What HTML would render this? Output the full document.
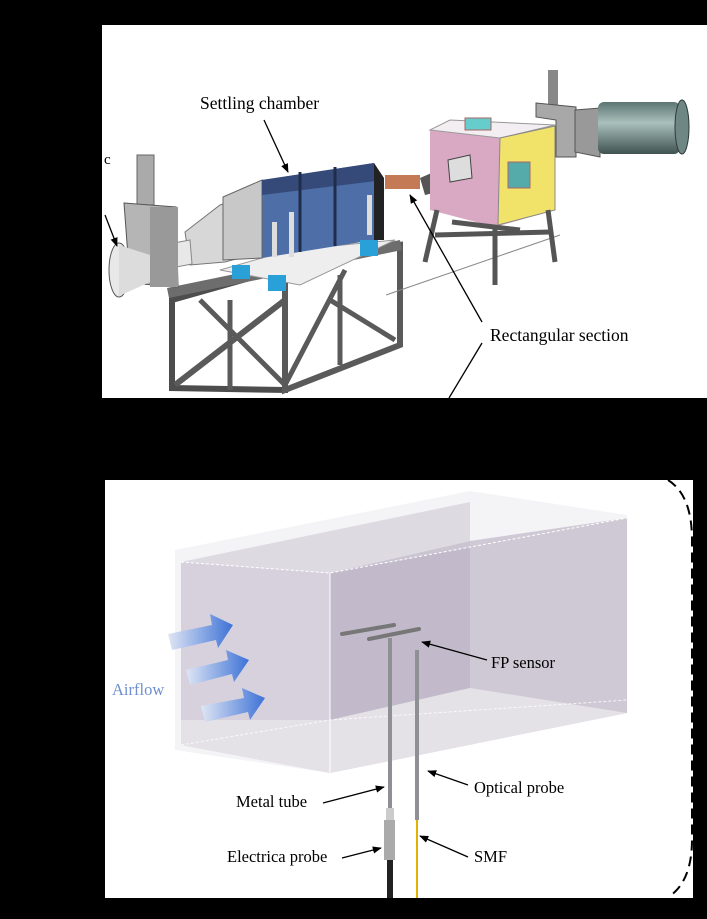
<!DOCTYPE html>
<html><head><meta charset="utf-8"><style>
html,body{margin:0;padding:0;background:#000;}
svg{display:block;}
text{font-family:"Liberation Serif",serif;}
</style></head><body>
<svg width="707" height="919" viewBox="0 0 707 919" xmlns="http://www.w3.org/2000/svg">
<defs>
<linearGradient id="arr" x1="0" x2="1"><stop offset="0" stop-color="#dfe6f4"/><stop offset="1" stop-color="#3d72d6"/></linearGradient>
<linearGradient id="cyl" x1="0" y1="0" x2="0" y2="1"><stop offset="0" stop-color="#5d7572"/><stop offset=".4" stop-color="#a9c0bd"/><stop offset="1" stop-color="#3f5250"/></linearGradient>
<marker id="ah" viewBox="0 0 10 10" refX="9" refY="5" markerWidth="7" markerHeight="7" orient="auto"><path d="M0,1 L10,5 L0,9 z" fill="#000"/></marker>
</defs>
<rect width="707" height="919" fill="#000"/>
<!-- TOP PANEL -->
<rect x="102" y="25" width="605" height="373" fill="#fff"/>
<text x="104" y="164" font-size="15">c</text>
<!-- frame -->
<polygon points="172,300 285,268 285,390 172,388" fill="none" stroke="#4d4d4d" stroke-width="6"/>
<polygon points="285,268 400,245 400,345 285,390" fill="none" stroke="#5a5a5a" stroke-width="6"/>
<line x1="175" y1="385" x2="285" y2="300" stroke="#5a5a5a" stroke-width="6"/>
<line x1="200" y1="300" x2="285" y2="385" stroke="#5a5a5a" stroke-width="5"/>
<line x1="285" y1="385" x2="345" y2="270" stroke="#5a5a5a" stroke-width="5"/>
<line x1="330" y1="300" x2="395" y2="340" stroke="#5a5a5a" stroke-width="5"/>
<line x1="230" y1="300" x2="230" y2="390" stroke="#5a5a5a" stroke-width="5"/>
<line x1="340" y1="275" x2="340" y2="365" stroke="#5a5a5a" stroke-width="5"/>
<polygon points="167,288 400,240 402,250 169,298" fill="#6d6d6d"/>
<!-- plate -->
<polygon points="220,270 290,250 395,240 300,285" fill="#eee" stroke="#999"/>
<!-- cone -->
<polygon points="185,232 220,205 262,192 262,252 225,262 190,265" fill="#d7d7d7" stroke="#777"/>
<polygon points="147,248 190,240 192,264 150,272" fill="#e8e8e8" stroke="#888"/>
<!-- valve & bell -->
<rect x="137" y="155" width="17" height="50" fill="#aaa" stroke="#666"/>
<polygon points="124,203 176,207 178,287 130,283" fill="#b5b5b5" stroke="#555"/>
<rect x="150" y="207" width="28" height="80" fill="#999"/>
<ellipse cx="119" cy="270" rx="10" ry="27" fill="#e8e8e8" stroke="#555"/>
<polygon points="119,245 150,255 150,282 119,296" fill="#dcdcdc"/>
<!-- blue box -->
<polygon points="223,197 262,180 374,163 374,240 262,258" fill="#4e6ea8"/>
<polygon points="223,197 262,180 262,258 223,260" fill="#c8c8c8" stroke="#666"/>
<polygon points="262,180 374,163 384,180 262,195" fill="#354a78"/>
<line x1="300" y1="172" x2="300" y2="252" stroke="#1f2d4a" stroke-width="3"/>
<line x1="335" y1="167" x2="335" y2="246" stroke="#1f2d4a" stroke-width="3"/>
<polygon points="374,163 384,178 384,240 374,240" fill="#222"/>
<rect x="272" y="222" width="5" height="35" fill="#ddd"/>
<rect x="289" y="212" width="5" height="45" fill="#ddd"/>
<rect x="367" y="195" width="5" height="40" fill="#ddd"/>
<rect x="232" y="265" width="18" height="14" fill="#2aa0d8"/>
<rect x="268" y="275" width="18" height="16" fill="#2aa0d8"/>
<rect x="360" y="240" width="18" height="16" fill="#2aa0d8"/>
<!-- test section -->
<rect x="385" y="175" width="35" height="14" fill="#c47a55"/>
<polygon points="420,178 450,165 455,188 425,195" fill="#555"/>
<line x1="386" y1="295" x2="560" y2="235" stroke="#888" stroke-width="1"/>
<!-- pink box -->
<polygon points="430,130 450,120 555,128 555,210 495,227 430,210" fill="#d9a9c4"/>
<polygon points="430,130 450,120 555,125 500,138" fill="#f3eef2" stroke="#999"/>
<polygon points="500,138 555,126 555,210 498,225" fill="#f1e26a" stroke="#888"/>
<rect x="508" y="162" width="22" height="26" fill="#5aa" stroke="#a66"/>
<rect x="465" y="118" width="26" height="12" fill="#6cc" stroke="#a66"/>
<polygon points="448,160 470,155 472,178 450,182" fill="#ddd" stroke="#444"/>
<!-- legs -->
<g stroke="#555" stroke-width="5">
<line x1="437" y1="210" x2="425" y2="262"/><line x1="495" y1="225" x2="495" y2="285"/>
<line x1="548" y1="210" x2="555" y2="262"/><line x1="435" y1="235" x2="550" y2="232"/>
<line x1="452" y1="222" x2="520" y2="230"/>
</g>
<!-- right valve & pipe -->
<rect x="548" y="70" width="10" height="36" fill="#888"/>
<polygon points="536,103 576,107 576,157 556,157 556,120 536,117" fill="#a8a8a8" stroke="#555"/>
<polygon points="575,110 600,108 600,157 575,152" fill="#999" stroke="#555"/>
<rect x="598" y="102" width="82" height="52" rx="6" fill="url(#cyl)"/>
<ellipse cx="682" cy="127" rx="7" ry="27" fill="#6f8784" stroke="#2d3a39"/>
<!-- labels top -->
<text x="200" y="109" font-size="17.5">Settling chamber</text>
<line x1="264" y1="120" x2="288" y2="172" stroke="#000" stroke-width="1.3" marker-end="url(#ah)"/>
<line x1="105" y1="215" x2="117" y2="246" stroke="#000" stroke-width="1.3" marker-end="url(#ah)"/>
<text x="490" y="341" font-size="17.5">Rectangular section</text>
<line x1="482" y1="322" x2="410" y2="195" stroke="#000" stroke-width="1.3" marker-end="url(#ah)"/>
<line x1="482" y1="343" x2="449" y2="398" stroke="#000" stroke-width="1.3"/>
<!-- BOTTOM PANEL -->
<rect x="105" y="480" width="588" height="418" fill="#fff"/>
<path d="M668,480 Q692,495 692,540 L692,840 Q692,880 670,896" fill="none" stroke="#000" stroke-width="2" stroke-dasharray="10,6"/>
<!-- box -->
<polygon points="175,550 470,491 627,515 627,713 330,773 175,750" fill="#f4f3f6"/>
<polygon points="181,562 330,573 627,518 627,713 330,773 181,745" fill="#d6d1dd"/>
<polygon points="330,573 470,541 470,688 330,720" fill="#b9b0c3" opacity=".7"/>
<polygon points="330,573 470,541 470,502 181,562" fill="#cfcad5" opacity=".6"/>
<polygon points="470,541 627,518 627,713 470,688" fill="#cfc9d5"/>
<polygon points="181,745 330,773 627,713 470,688 330,720 181,720" fill="#e7e5ea" opacity=".8"/>
<polyline points="181,562 330,573 627,518" fill="none" stroke="#fff" stroke-dasharray="3,2"/>
<polyline points="181,745 330,720 627,700" fill="none" stroke="#fff" stroke-dasharray="3,2" opacity=".8"/>
<line x1="330" y1="573" x2="330" y2="773" stroke="#fff"/>
<!-- arrows -->
<polygon points="168,634 212,625 210,614 233,625 218,648 216,640 172,650" fill="url(#arr)"/>
<polygon points="186,670 228,660 226,650 249,660 234,682 232,674 190,685" fill="url(#arr)"/>
<polygon points="201,706 244,698 242,688 265,698 250,720 248,712 205,722" fill="url(#arr)"/>
<text x="112" y="695" font-size="16.5" fill="#6f8fd0">Airflow</text>
<!-- probes -->
<line x1="342" y1="634" x2="394" y2="625" stroke="#777" stroke-width="4" stroke-linecap="round"/>
<line x1="369" y1="639" x2="419" y2="629" stroke="#777" stroke-width="4" stroke-linecap="round"/>
<rect x="388" y="638" width="4" height="222" fill="#8f8f96"/>
<rect x="386" y="808" width="8" height="12" fill="#ccc"/>
<rect x="384" y="820" width="11" height="40" fill="#aaa"/>
<rect x="387" y="860" width="6" height="38" fill="#222"/>
<rect x="415" y="650" width="4" height="170" fill="#8f8f96"/>
<rect x="416" y="820" width="2" height="78" fill="#e0b300"/>
<!-- labels bottom -->
<text x="491" y="668" font-size="16.5">FP sensor</text>
<line x1="487" y1="660" x2="422" y2="642" stroke="#000" stroke-width="1.3" marker-end="url(#ah)"/>
<text x="474" y="793" font-size="16.5">Optical probe</text>
<line x1="468" y1="785" x2="428" y2="771" stroke="#000" stroke-width="1.3" marker-end="url(#ah)"/>
<text x="236" y="807" font-size="16.5">Metal tube</text>
<line x1="323" y1="803" x2="384" y2="787" stroke="#000" stroke-width="1.3" marker-end="url(#ah)"/>
<text x="227" y="862" font-size="16.5">Electrica probe</text>
<line x1="342" y1="858" x2="381" y2="848" stroke="#000" stroke-width="1.3" marker-end="url(#ah)"/>
<text x="474" y="862" font-size="16.5">SMF</text>
<line x1="468" y1="857" x2="420" y2="836" stroke="#000" stroke-width="1.3" marker-end="url(#ah)"/>
</svg>
</body></html>
